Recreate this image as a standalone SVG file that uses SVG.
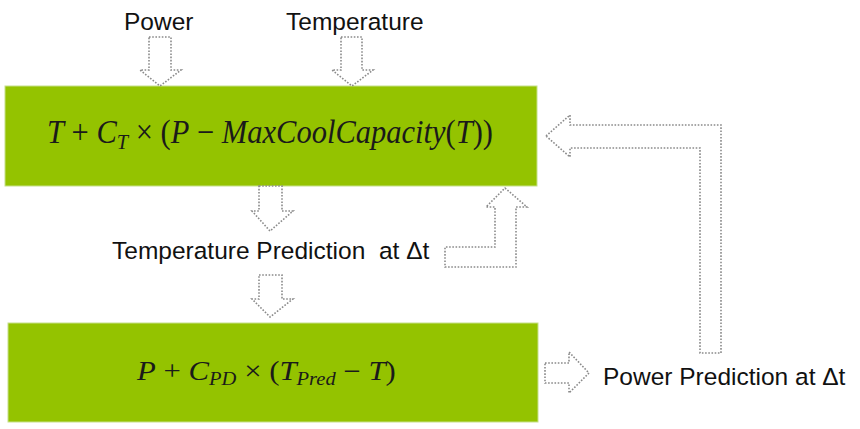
<svg xmlns="http://www.w3.org/2000/svg" width="860" height="429" viewBox="0 0 860 429">
<style>
.box{fill:#94c300;stroke:#c6e08a;stroke-width:1}
.lbl{font-family:"Liberation Sans",Arial,sans-serif;font-size:24.5px;fill:#111}
.math{font-family:"Liberation Serif","Times New Roman",serif;fill:#1a1a1a}
.i{font-style:italic}
.arr{fill:#fff;stroke:#8a8a8a;stroke-width:1.6;stroke-dasharray:1.6 1.6;stroke-linejoin:miter}
</style>
<rect width="860" height="429" fill="#fff"/>
<g id="node-power"><text class="lbl" x="124" y="30">Power</text></g>
<g id="node-temperature"><text class="lbl" x="286" y="30">Temperature</text></g>
<g id="node-temp-model">
<rect class="box" x="5" y="86" width="532" height="100"/>
<text class="math" transform="translate(47,143) scale(0.925,1)" x="0" y="0" font-size="33"><tspan class="i">T</tspan> + <tspan class="i">C</tspan><tspan class="i" font-size="22" dy="6">T</tspan><tspan dy="-6"> × (</tspan><tspan class="i">P</tspan> − <tspan class="i">MaxCoolCapacity</tspan>(<tspan class="i">T</tspan>))</text>
</g>
<g id="node-temp-prediction"><text class="lbl" x="112" y="259" xml:space="preserve">Temperature Prediction  at Δt</text></g>
<g id="node-power-model">
<rect class="box" x="8" y="323" width="530" height="99"/>
<text class="math" transform="translate(137,380) scale(1.14,1)" x="0" y="0" font-size="27"><tspan class="i">P</tspan> + <tspan class="i">C</tspan><tspan class="i" font-size="18" dy="5">PD</tspan><tspan dy="-5"> × (</tspan><tspan class="i">T</tspan><tspan class="i" font-size="18" dy="5">Pred</tspan><tspan dy="-5"> − </tspan><tspan class="i">T</tspan>)</text>
</g>
<g id="node-power-prediction"><text class="lbl" x="603" y="385">Power Prediction at Δt</text></g>
<g id="connectors">
<path class="arr" d="M149,37 H171 V70 H181 L160,86 L140,70 H149 Z"/>
<path class="arr" d="M341,37 H362 V70 H373 L352,86 L332,70 H341 Z"/>
<path class="arr" d="M259,186 H282 V211 H293 L270,231 L252,211 H259 Z"/>
<path class="arr" d="M259,275 H282 V299 H293 L270,317 L252,299 H259 Z"/>
<path class="arr" d="M505,188 L527,207 H516 V267 H445 V247 H495 V207 H486 Z"/>
<path class="arr" d="M546,136 L570,115 V125 H721 V353 H700 V148 H570 V157 Z"/>
<path class="arr" d="M545,363 H569 V352 L589,373 L569,393 V383 H545 Z"/>
</g>
</svg>
